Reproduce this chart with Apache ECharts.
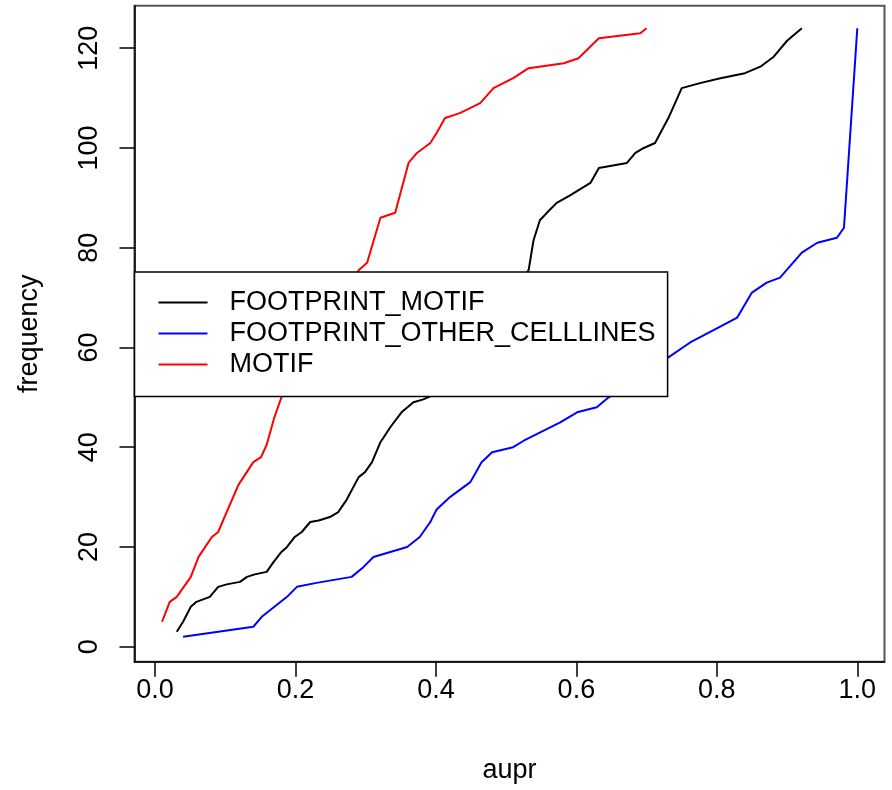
<!DOCTYPE html>
<html>
<head>
<meta charset="utf-8">
<script src="https://cdn.jsdelivr.net/npm/echarts@6/dist/echarts.min.js"></script>
<style>
  html, body { margin: 0; padding: 0; background: #fff; }
  #chart { width: 892px; height: 790px; }
</style>
</head>
<body>
<div id="chart"></div>
<script>
// Cumulative frequency of aupr values for three feature sets
const motifAupr = [0.01, 0.021, 0.031, 0.051, 0.062, 0.081, 0.09, 0.102, 0.119, 0.14, 0.151, 0.159, 0.17, 0.18,
  0.29, 0.302, 0.321, 0.342, 0.361, 0.373, 0.392, 0.401, 0.413, 0.434, 0.463, 0.482, 0.51, 0.532, 0.582, 0.603, 0.632, 0.691, 0.70];
const motifFreq = [5, 9, 10, 14, 18, 22, 23, 27, 32.5, 37, 38, 40.5, 46, 50,
  75.5, 77, 86, 87, 97, 99, 101, 103, 106, 107, 109, 112, 114, 116, 117, 118, 122, 123, 124];

const footprintMotifAupr = [0.031, 0.04, 0.051, 0.059, 0.078, 0.09, 0.102, 0.121, 0.131, 0.142, 0.159, 0.169, 0.18, 0.188,
  0.199, 0.209, 0.221, 0.233, 0.249, 0.261, 0.273, 0.29, 0.299, 0.309, 0.321, 0.335, 0.351, 0.368, 0.382, 0.392,
  0.532, 0.539, 0.548, 0.558, 0.572, 0.591, 0.62, 0.632, 0.672, 0.684, 0.696, 0.712, 0.731, 0.75, 0.776, 0.805,
  0.84, 0.862, 0.881, 0.9, 0.921];
const footprintMotifFreq = [3, 5, 8, 9, 10, 12, 12.5, 13, 14, 14.5, 15, 17, 19, 20,
  22, 23, 25, 25.3, 26, 27, 29.5, 34, 35, 37, 41, 44, 47, 49, 49.6, 50.2,
  75.5, 81.5, 85.5, 87, 89, 90.5, 93, 96, 97, 99, 100, 101, 106, 112, 113, 114,
  115, 116.3, 118.3, 121.5, 124];

const otherCellAupr = [0.04, 0.14, 0.152, 0.188, 0.202, 0.23, 0.28, 0.297, 0.311, 0.359, 0.377, 0.392, 0.401, 0.42,
  0.449, 0.465, 0.48, 0.51, 0.525, 0.577, 0.601, 0.629, 0.646,
  0.731, 0.762, 0.798, 0.829, 0.85, 0.871, 0.89, 0.921, 0.943, 0.971, 0.981, 1.0];
const otherCellFreq = [2, 4, 6, 10, 12, 12.8, 14, 16, 18, 20, 22, 25, 27.5, 30,
  33, 37, 39, 40, 41.3, 45, 47, 48, 50,
  58, 61, 63.7, 66, 71, 73, 74, 79, 81, 82, 84, 124];

const xTicks = [0, 0.2, 0.4, 0.6, 0.8, 1.0];
const yTicks = [0, 20, 40, 60, 80, 100, 120];

const seriesNames = ['FOOTPRINT_MOTIF', 'FOOTPRINT_OTHER_CELLLINES', 'MOTIF'];
const seriesColors = ['#000000', '#0000ff', '#ff0000'];

const zip = (xs, ys) => xs.map((x, i) => [x, ys[i]]);

const FONT = "'Liberation Sans', Arial, Helvetica, sans-serif";
const FS = 27;

const chart = echarts.init(document.getElementById('chart'), null, { renderer: 'canvas' });

chart.setOption({
  animation: false,
  backgroundColor: '#ffffff',
  textStyle: { fontFamily: FONT, color: '#000' },
  grid: {
    left: 134.5, top: 5.7, width: 750, height: 656,
    show: true, borderColor: '#555', borderWidth: 2, backgroundColor: 'transparent'
  },
  xAxis: {
    type: 'value',
    min: -0.02919, max: 1.03873,
    name: 'aupr', nameLocation: 'middle', nameGap: 95,
    nameTextStyle: { fontFamily: FONT, fontSize: FS, color: '#000' },
    axisLine: { show: true, onZero: false, lineStyle: { color: '#000', width: 1.5 } },
    axisTick: { show: true, inside: false, length: 15, customValues: xTicks, lineStyle: { color: '#000', width: 1.5 } },
    axisLabel: {
      customValues: xTicks, margin: 15, fontFamily: FONT, fontSize: FS, color: '#000',
      formatter: v => v.toFixed(1)
    },
    splitLine: { show: false }
  },
  yAxis: {
    type: 'value',
    min: -3.008, max: 128.53,
    name: 'frequency', nameLocation: 'middle', nameGap: 91,
    nameTextStyle: { fontFamily: FONT, fontSize: FS, color: '#000' },
    axisLine: { show: true, onZero: false, lineStyle: { color: '#000', width: 1.5 } },
    axisTick: { show: true, inside: false, length: 15, customValues: yTicks, lineStyle: { color: '#000', width: 1.5 } },
    axisLabel: {
      customValues: yTicks, margin: 31, rotate: 90, fontFamily: FONT, fontSize: FS, color: '#000'
    },
    splitLine: { show: false }
  },
  legend: {
    orient: 'vertical',
    left: 134.5, top: 272,
    padding: [17, 12, 18.5, 23],
    itemWidth: 49, itemHeight: 27, itemGap: 4,
    backgroundColor: '#ffffff',
    borderColor: '#000', borderWidth: 1.5, borderRadius: 0,
    itemStyle: { color: 'rgba(0,0,0,0)', borderWidth: 0, opacity: 0 },
    textStyle: { fontFamily: FONT, fontSize: FS, color: '#000', padding: [0, 0, 0, 17] },
    data: seriesNames,
    z: 10
  },
  series: [
    { name: seriesNames[0], data: zip(footprintMotifAupr, footprintMotifFreq) },
    { name: seriesNames[1], data: zip(otherCellAupr, otherCellFreq) },
    { name: seriesNames[2], data: zip(motifAupr, motifFreq) }
  ].map((s, i) => Object.assign({
    type: 'line',
    symbol: 'none',
    smooth: false,
    clip: true,
    color: seriesColors[i],
    lineStyle: { color: seriesColors[i], width: 2 }
  }, s))
});
</script>
</body>
</html>
